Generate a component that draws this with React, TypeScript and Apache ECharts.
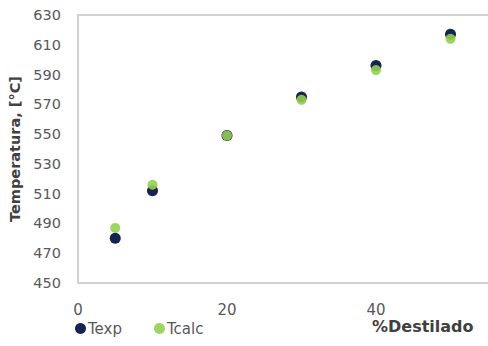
import React, { useEffect, useRef } from "react";
import * as echarts from "echarts";

// % distilled and the measured / calculated temperatures [°C]
const destilado = [5, 10, 20, 30, 40, 50];
const texp = [480, 512, 549, 575, 596, 617];
const tcalc = [487, 516, 549, 573, 593, 614];

const yTicks = { min: 450, max: 630, interval: 20 };
const xTicks = { min: 0, max: 60, interval: 20 };

const FONT = "'DejaVu Sans', 'Liberation Sans', sans-serif";
const NAVY = "#18244f";
const GREEN = "#92d050";

export default function App() {
  const ref = useRef<HTMLDivElement>(null);

  useEffect(() => {
    document.body.style.margin = "0";
    if (!ref.current) return;
    const chart = echarts.init(ref.current, undefined, { renderer: "svg" });

    const pairs = (ys: number[]) => destilado.map((x, i) => [x, ys[i]]);

    chart.setOption({
      animation: false,
      backgroundColor: "#ffffff",
      textStyle: { fontFamily: FONT },
      grid: {
        left: 78,
        top: 15,
        bottom: 63,
        right: -37,
        outerBoundsMode: "none",
        containLabel: false,
        show: true,
        borderColor: "#c4c4c4",
        borderWidth: 1.5,
        backgroundColor: "transparent",
      },
      xAxis: {
        type: "value",
        min: xTicks.min,
        max: xTicks.max,
        interval: xTicks.interval,
        axisLine: { show: false },
        axisTick: { show: false },
        splitLine: { show: false },
        axisLabel: {
          color: "#595959",
          fontSize: 15,
          margin: 19,
          fontFamily: FONT,
          showMaxLabel: false,
        },
      },
      yAxis: {
        type: "value",
        min: yTicks.min,
        max: yTicks.max,
        interval: yTicks.interval,
        axisLine: { show: false },
        axisTick: { show: false },
        splitLine: { show: false },
        axisLabel: { color: "#595959", fontSize: 14.5, margin: 17, fontFamily: FONT },
        name: "Temperatura, [°C]",
        nameLocation: "middle",
        nameGap: 54,
        nameTextStyle: { color: "#404040", fontSize: 14.5, fontWeight: "bold", fontFamily: FONT },
      },
      legend: {
        left: 70,
        top: 316,
        itemWidth: 11,
        itemHeight: 11,
        itemGap: 32,
        icon: "circle",
        textStyle: { color: "#595959", fontSize: 15, fontFamily: FONT, padding: [0, 0, 0, -3] },
        data: ["Texp", "Tcalc"],
      },
      graphic: [
        {
          type: "text",
          left: 372,
          top: 318,
          style: {
            text: "%Destilado",
            fill: "#404040",
            font: `bold 16px ${FONT}`,
          },
        },
      ],
      series: [
        {
          name: "Texp",
          type: "scatter",
          symbolSize: 11,
          itemStyle: { color: NAVY, opacity: 1 },
          data: pairs(texp),
          z: 2,
        },
        {
          name: "Tcalc",
          type: "scatter",
          symbolSize: 10,
          itemStyle: { color: GREEN, opacity: 0.9 },
          data: pairs(tcalc),
          z: 3,
        },
      ],
    });

    return () => chart.dispose();
  }, []);

  return <div ref={ref} style={{ width: 488, height: 346 }} />;
}
